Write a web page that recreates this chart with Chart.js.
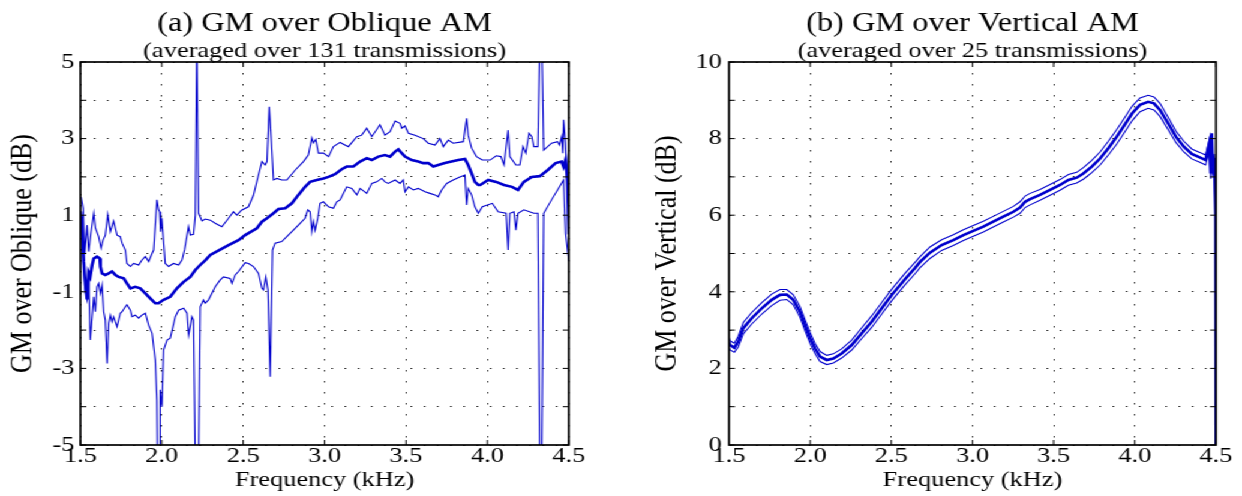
<!DOCTYPE html>
<html>
<head>
<meta charset="utf-8">
<script src="https://cdn.jsdelivr.net/npm/chart.js@4"></script>
<style>
  html, body { margin: 0; padding: 0; background: #fff; }
  #wrap { position: absolute; left: 0; top: 0; width: 1035px; height: 496px; transform: scaleX(1.2); transform-origin: 0 0; }
  canvas { position: absolute; top: 0; }
</style>
</head>
<body>
<div id="wrap">
  <canvas id="obliqueChart" width="517" height="496" style="left:0"></canvas>
  <canvas id="verticalChart" width="518" height="496" style="left:517px"></canvas>
</div>
<script>
// Panel (a): GM over Oblique AM
const obliqueUpperFreq = [1.5, 1.504, 1.517, 1.527, 1.541, 1.551, 1.565, 1.582, 1.592, 1.612, 1.627, 1.639, 1.653, 1.668, 1.684, 1.704, 1.725, 1.745, 1.756, 1.776,
  1.786, 1.807, 1.827, 1.858, 1.878, 1.899, 1.919, 1.94, 1.95, 1.97, 1.98, 1.987, 1.992, 2.0, 2.011, 2.021, 2.042, 2.072, 2.103, 2.124,
  2.14, 2.164, 2.175, 2.195, 2.206, 2.215, 2.226, 2.247, 2.267, 2.298, 2.328, 2.369, 2.41, 2.44, 2.461, 2.49, 2.532, 2.563, 2.594, 2.615,
  2.635, 2.646, 2.66, 2.672, 2.686, 2.707, 2.737, 2.768, 2.82, 2.87, 2.9, 2.922, 2.932, 2.946, 2.962, 2.993, 3.024, 3.054, 3.095, 3.146,
  3.198, 3.228, 3.259, 3.29, 3.34, 3.371, 3.402, 3.433, 3.463, 3.474, 3.494, 3.515, 3.555, 3.606, 3.637, 3.678, 3.709, 3.729, 3.76, 3.79,
  3.852, 3.872, 3.882, 3.903, 3.933, 3.969, 4.017, 4.054, 4.083, 4.102, 4.127, 4.138, 4.175, 4.199, 4.219, 4.236, 4.256, 4.273, 4.285, 4.31,
  4.322, 4.334, 4.346, 4.394, 4.431, 4.443, 4.456, 4.463, 4.468, 4.48, 4.492, 4.5];
const obliqueUpperDb = [1.45, 1.48, 1.18, 0.0, 0.74, 0.05, 0.55, 1.05, 0.67, 0.44, 0.14, 0.35, 0.48, 1.02, 0.57, 0.85, 0.48, 0.44, 0.27, 0.09,
  -0.26, -0.34, -0.26, -0.30, -0.17, -0.08, -0.21, 0.0, 0.09, 1.40, 1.15, 1.09, 0.57, 0.92, 0.31, -0.26, -0.34, -0.26, -0.30, -0.17,
  0.1, 0.70, 0.48, 0.5, 1.0, 5.6, 1.05, 0.85, 0.9, 0.87, 0.79, 0.70, 0.92, 1.09, 1.0, 1.13, 1.22, 1.52, 2.05, 2.40,
  2.31, 2.4, 3.83, 3.0, 1.92, 1.96, 1.92, 1.92, 2.18, 2.40, 2.57, 3.02, 2.89, 2.98, 2.62, 2.62, 2.53, 2.79, 2.90, 2.79,
  3.05, 3.09, 3.27, 3.05, 3.36, 3.09, 3.18, 3.46, 3.40, 3.27, 3.33, 3.14, 3.09, 3.0, 2.88, 2.83, 3.0, 2.79, 2.96, 2.88,
  2.92, 3.53, 3.09, 2.75, 2.53, 2.44, 2.44, 2.55, 2.53, 2.31, 3.22, 2.53, 2.31, 2.31, 2.79, 2.62, 3.14, 3.05, 2.79, 2.79,
  5.6, 5.6, 2.70, 2.88, 2.92, 2.83, 3.05, 2.62, 3.49, 2.88, 1.40, 1.2];

const obliqueMeanFreq = [1.5, 1.51, 1.52, 1.53, 1.541, 1.55, 1.56, 1.572, 1.582, 1.602, 1.619, 1.623, 1.633, 1.653, 1.674, 1.694, 1.715, 1.735, 1.766, 1.786,
  1.807, 1.837, 1.868, 1.899, 1.929, 1.96, 1.98, 2.011, 2.052, 2.093, 2.134, 2.175, 2.206, 2.236, 2.267, 2.298, 2.35, 2.41, 2.471, 2.512,
  2.584, 2.615, 2.646, 2.686, 2.717, 2.758, 2.799, 2.839, 2.88, 2.911, 2.952, 2.993, 3.024, 3.064, 3.105, 3.136, 3.177, 3.218, 3.259, 3.29,
  3.33, 3.371, 3.402, 3.433, 3.453, 3.474, 3.494, 3.535, 3.575, 3.606, 3.637, 3.668, 3.698, 3.739, 3.78, 3.821, 3.862, 3.882, 3.903, 3.923,
  3.944, 3.956, 4.005, 4.054, 4.102, 4.151, 4.188, 4.224, 4.273, 4.322, 4.371, 4.419, 4.456, 4.468, 4.48, 4.492, 4.5];
const obliqueMeanDb = [1.1, 0.8, -0.2, -0.8, -1.2, -0.5, -0.6, -0.30, -0.13, -0.08, -0.13, -0.34, -0.52, -0.56, -0.52, -0.47, -0.56, -0.61, -0.65, -0.78,
  -0.91, -0.87, -0.91, -1.04, -1.17, -1.30, -1.30, -1.21, -1.13, -0.91, -0.74, -0.61, -0.43, -0.30, -0.18, -0.04, 0.08, 0.22, 0.35, 0.48,
  0.66, 0.83, 0.92, 1.05, 1.16, 1.18, 1.31, 1.53, 1.74, 1.87, 1.92, 1.96, 2.0, 2.07, 2.2, 2.27, 2.27, 2.40, 2.49, 2.44,
  2.53, 2.57, 2.53, 2.66, 2.72, 2.62, 2.53, 2.44, 2.40, 2.36, 2.36, 2.27, 2.31, 2.36, 2.40, 2.44, 2.47, 2.31, 2.09, 1.87,
  1.79, 1.79, 1.92, 1.87, 1.79, 1.74, 1.66, 1.87, 2.0, 2.02, 2.18, 2.36, 2.40, 2.27, 2.44, 1.92, 0.5];

const obliqueLowerFreq = [1.5, 1.51, 1.52, 1.53, 1.541, 1.551, 1.561, 1.572, 1.582, 1.592, 1.602, 1.612, 1.623, 1.633, 1.643, 1.653, 1.664, 1.674, 1.684, 1.694,
  1.704, 1.725, 1.745, 1.756, 1.776, 1.786, 1.807, 1.817, 1.837, 1.858, 1.878, 1.899, 1.919, 1.94, 1.96, 1.97, 1.974, 1.987, 1.99, 2.001,
  2.011, 2.032, 2.052, 2.083, 2.103, 2.134, 2.155, 2.165, 2.185, 2.195, 2.206, 2.226, 2.236, 2.256, 2.267, 2.287, 2.308, 2.328, 2.359, 2.379,
  2.42, 2.431, 2.451, 2.471, 2.512, 2.533, 2.563, 2.594, 2.615, 2.625, 2.639, 2.652, 2.666, 2.68, 2.696, 2.737, 2.799, 2.839, 2.88, 2.897,
  2.911, 2.922, 2.932, 2.942, 2.958, 2.972, 2.993, 3.024, 3.054, 3.075, 3.095, 3.105, 3.136, 3.167, 3.198, 3.218, 3.259, 3.29, 3.32, 3.351,
  3.371, 3.391, 3.433, 3.463, 3.483, 3.494, 3.515, 3.545, 3.575, 3.617, 3.647, 3.678, 3.698, 3.719, 3.75, 3.79, 3.831, 3.862, 3.872, 3.882,
  3.903, 3.923, 3.944, 3.969, 4.03, 4.066, 4.115, 4.127, 4.138, 4.163, 4.175, 4.188, 4.224, 4.285, 4.31, 4.322, 4.334, 4.346, 4.394, 4.443,
  4.468, 4.48, 4.5];
const obliqueLowerDb = [0.9, 0.4, -0.4, -1.0, -1.21, -0.69, -2.26, -1.65, -1.13, -1.52, -0.87, -0.78, -1.04, -0.82, -1.52, -1.74, -2.87, -1.82, -1.61, -1.78,
  -1.65, -1.91, -1.56, -1.52, -1.39, -1.34, -1.48, -1.65, -1.61, -1.69, -1.61, -1.56, -1.87, -2.08, -2.78, -3.83, -5.6, -5.6, -3.56, -4.0,
  -2.52, -2.26, -2.21, -1.65, -1.48, -1.43, -1.56, -2.13, -1.65, -1.74, -5.6, -5.6, -1.39, -1.21, -1.30, -1.21, -1.04, -0.87, -0.69, -0.61,
  -0.65, -0.78, -0.56, -0.47, -0.24, -0.26, -0.34, -0.52, -0.91, -0.95, -0.61, -0.95, -3.22, 0.09, 0.27, 0.31, 0.57, 0.74, 0.92, 1.14,
  1.09, 0.57, 0.83, 0.61, 0.92, 1.31, 1.35, 1.22, 1.18, 1.35, 1.40, 1.48, 1.74, 1.70, 1.53, 1.70, 1.57, 1.83, 1.87, 1.96,
  1.87, 1.83, 1.92, 1.83, 1.92, 1.61, 1.74, 1.66, 1.70, 1.61, 1.57, 1.53, 1.48, 1.66, 1.83, 1.92, 2.0, 2.05, 1.27, 1.70,
  1.53, 1.22, 1.05, 1.22, 1.31, 1.09, 1.05, 0.09, 1.05, 1.09, 0.61, 1.05, 1.14, 1.05, 1.05, -5.6, -5.6, 1.05, 1.40, 1.74,
  1.92, 0.53, -0.2];

// Panel (b): GM over Vertical AM
const verticalFreq = [1.5, 1.506, 1.533, 1.557, 1.588, 1.64, 1.702, 1.763, 1.814, 1.856, 1.896, 1.937, 1.968, 2.0, 2.03, 2.061, 2.102, 2.143, 2.194, 2.256,
  2.318, 2.379, 2.441, 2.503, 2.584, 2.646, 2.677, 2.738, 2.81, 2.882, 2.944, 3.005, 3.067, 3.128, 3.19, 3.252, 3.293, 3.324, 3.355, 3.416,
  3.478, 3.539, 3.591, 3.642, 3.683, 3.735, 3.786, 3.837, 3.889, 3.93, 3.984, 4.032, 4.082, 4.118, 4.155, 4.205, 4.253, 4.302, 4.351, 4.4,
  4.436, 4.46, 4.468, 4.473, 4.48, 4.49, 4.498, 4.5];
const verticalMeanDb = [2.68, 2.61, 2.54, 2.70, 3.05, 3.31, 3.57, 3.79, 3.92, 3.93, 3.79, 3.48, 3.13, 2.79, 2.52, 2.31, 2.22, 2.26, 2.39, 2.61,
  2.92, 3.22, 3.57, 3.92, 4.33, 4.62, 4.78, 5.02, 5.22, 5.35, 5.48, 5.59, 5.70, 5.83, 5.96, 6.09, 6.20, 6.35, 6.42, 6.53,
  6.66, 6.79, 6.92, 6.98, 7.09, 7.27, 7.48, 7.75, 8.05, 8.31, 8.66, 8.88, 8.96, 8.92, 8.75, 8.40, 8.05, 7.79, 7.60, 7.51,
  7.44, 7.88, 7.09, 8.14, 7.27, 7.5, 6.0, 0];
const verticalUpperDb = [2.80, 2.72, 2.66, 2.84, 3.20, 3.46, 3.72, 3.94, 4.06, 4.06, 3.92, 3.62, 3.27, 2.93, 2.65, 2.44, 2.34, 2.38, 2.51, 2.74,
  3.06, 3.37, 3.72, 4.07, 4.48, 4.77, 4.92, 5.17, 5.36, 5.49, 5.62, 5.73, 5.84, 5.97, 6.10, 6.23, 6.35, 6.50, 6.57, 6.67,
  6.80, 6.93, 7.06, 7.12, 7.24, 7.43, 7.65, 7.93, 8.24, 8.50, 8.85, 9.06, 9.13, 9.09, 8.92, 8.56, 8.20, 7.93, 7.73, 7.64,
  7.57, 8.00, 7.20, 8.10, 7.40, 7.60, 6.20, 0];
const verticalLowerDb = [2.55, 2.48, 2.42, 2.56, 2.90, 3.16, 3.42, 3.64, 3.78, 3.80, 3.66, 3.34, 2.99, 2.65, 2.39, 2.18, 2.10, 2.14, 2.27, 2.48,
  2.78, 3.07, 3.42, 3.77, 4.18, 4.47, 4.63, 4.87, 5.08, 5.21, 5.34, 5.45, 5.56, 5.69, 5.82, 5.95, 6.05, 6.20, 6.27, 6.39,
  6.52, 6.65, 6.78, 6.84, 6.94, 7.11, 7.31, 7.57, 7.86, 8.12, 8.47, 8.70, 8.79, 8.75, 8.58, 8.24, 7.90, 7.65, 7.47, 7.38,
  7.31, 7.70, 6.95, 7.90, 7.10, 7.30, 5.80, 0];

const freqTicks = [1.5, 2.0, 2.5, 3.0, 3.5, 4.0, 4.5];

const lineBlue = '#0000cc';
Chart.defaults.font.family = "'Liberation Serif', 'Times New Roman', serif";
Chart.defaults.color = '#000';

function toPoints(freq, db) {
  return freq.map((f, i) => ({ x: f, y: db[i] }));
}

// black frame round the plot area plus short inward ticks, matplotlib style
const frameTicks = {
  id: 'frameTicks',
  afterDatasetsDraw(chart) {
    const { ctx, chartArea: a, scales } = chart;
    ctx.save();
    ctx.strokeStyle = '#000';
    ctx.lineWidth = 1;
    ctx.beginPath();
    scales.x.ticks.forEach(t => {
      const px = scales.x.getPixelForValue(t.value);
      ctx.moveTo(px, a.bottom); ctx.lineTo(px, a.bottom - 5);
      ctx.moveTo(px, a.top); ctx.lineTo(px, a.top + 5);
    });
    scales.y.ticks.forEach(t => {
      const py = scales.y.getPixelForValue(t.value);
      ctx.moveTo(a.left, py); ctx.lineTo(a.left + 5, py);
      ctx.moveTo(a.right, py); ctx.lineTo(a.right - 5, py);
    });
    ctx.stroke();
    ctx.lineWidth = 1.7;
    ctx.strokeRect(a.left, a.top, a.right - a.left, a.bottom - a.top);
    ctx.restore();
  }
};

function makeChart(canvasId, cfg) {
  const datasets = [
    { data: toPoints(cfg.upperFreq, cfg.upper), borderWidth: 1.1 },
    { data: toPoints(cfg.lowerFreq, cfg.lower), borderWidth: 1.1 },
    { data: toPoints(cfg.meanFreq, cfg.mean), borderWidth: 2.6 }
  ].map(d => Object.assign(d, {
    borderColor: lineBlue,
    pointRadius: 0,
    tension: 0,
    fill: false
  }));

  return new Chart(document.getElementById(canvasId), {
    type: 'line',
    data: { datasets: datasets },
    options: {
      responsive: false,
      animation: false,
      events: [],
      layout: { padding: { left: 0, right: cfg.padRight, top: 0, bottom: 0 } },
      plugins: {
        legend: { display: false },
        tooltip: { enabled: false },
        title: {
          display: true,
          text: cfg.title,
          fullSize: false,
          font: { size: 27, weight: 'normal', lineHeight: 1 },
          padding: { top: 10, bottom: 3 }
        },
        subtitle: {
          display: true,
          text: cfg.subtitle,
          fullSize: false,
          font: { size: 22, lineHeight: 1 },
          padding: { top: 0, bottom: 0 }
        }
      },
      scales: {
        x: {
          type: 'linear',
          min: 1.5,
          max: 4.5,
          afterBuildTicks: s => { s.ticks = freqTicks.map(v => ({ value: v })); },
          afterFit: s => { s.height = 51; },
          ticks: {
            padding: 0,
            font: { size: 22, lineHeight: 1 },
            callback: v => v.toFixed(1)
          },
          grid: { color: 'rgba(0,0,0,0.85)', lineWidth: 1, drawTicks: false },
          border: { display: false, dash: [1.5, 9.5] },
          title: {
            display: true,
            text: 'Frequency (kHz)',
            font: { size: 22, lineHeight: 1 },
            padding: { top: 0, bottom: 5 }
          }
        },
        y: {
          min: cfg.yMin,
          max: cfg.yMax,
          afterFit: s => { s.width = cfg.yWidth; },
          ticks: {
            stepSize: 1,
            padding: cfg.tickPad,
            font: { size: 22, lineHeight: 1 },
            callback: cfg.yLabel
          },
          grid: { color: 'rgba(0,0,0,0.85)', lineWidth: 1, drawTicks: false },
          border: { display: false, dash: [1.5, 9.5] },
          title: {
            display: true,
            text: cfg.yTitle,
            font: { size: 26, lineHeight: 1 },
            padding: { top: cfg.yTitlePad, bottom: 0 }
          }
        }
      }
    },
    plugins: [frameTicks]
  });
}

makeChart('obliqueChart', {
  title: '(a) GM over Oblique AM',
  subtitle: '(averaged over 131 transmissions)',
  yTitle: 'GM over Oblique (dB)',
  upperFreq: obliqueUpperFreq, upper: obliqueUpperDb,
  meanFreq: obliqueMeanFreq, mean: obliqueMeanDb,
  lowerFreq: obliqueLowerFreq, lower: obliqueLowerDb,
  yMin: -5, yMax: 5,
  yLabel: v => (Math.abs(v) % 2 === 1 ? String(v) : ''),
  yWidth: 67, yTitlePad: 6, tickPad: 5, padRight: 43
});

makeChart('verticalChart', {
  title: '(b) GM over Vertical AM',
  subtitle: '(averaged over 25 transmissions)',
  yTitle: 'GM over Vertical (dB)',
  upperFreq: verticalFreq, upper: verticalUpperDb,
  meanFreq: verticalFreq, mean: verticalMeanDb,
  lowerFreq: verticalFreq, lower: verticalLowerDb,
  yMin: 0, yMax: 10,
  yLabel: v => (v % 2 === 0 ? String(v) : ''),
  yWidth: 90.5, yTitlePad: 26, tickPad: 6, padRight: 21.7
});
</script>
</body>
</html>
